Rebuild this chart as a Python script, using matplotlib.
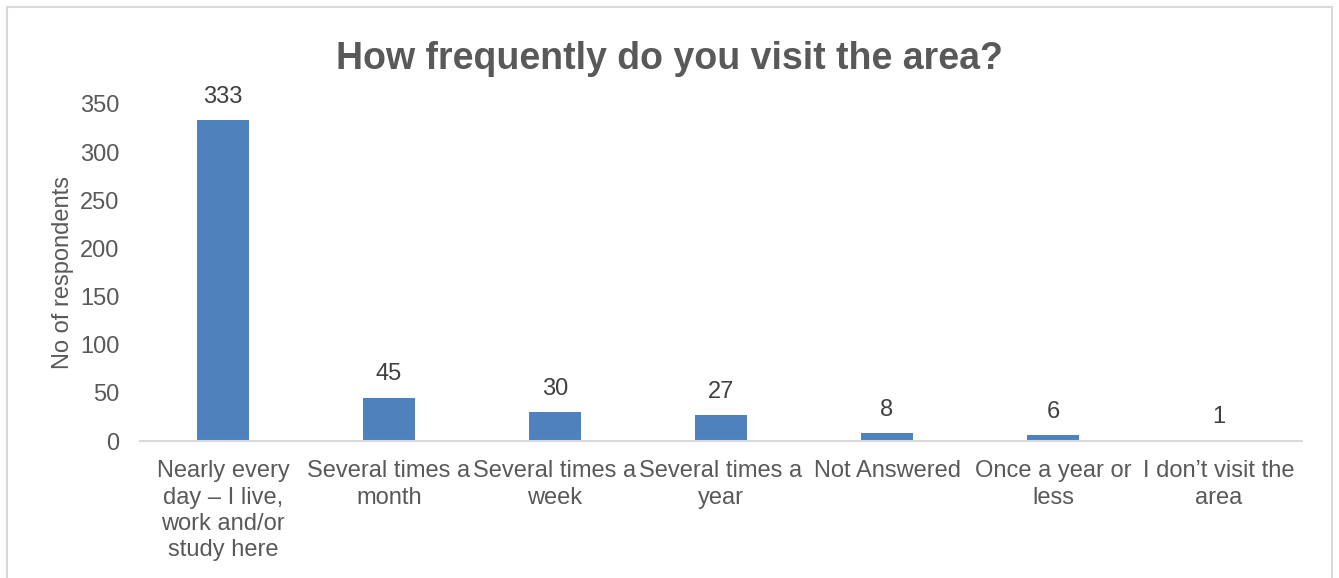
"""Bar chart of survey responses on visit frequency."""

import matplotlib
matplotlib.use("Agg")
import matplotlib.pyplot as plt
from matplotlib.patches import Rectangle

categories = [
    "Nearly every\nday \u2013 I live,\nwork and/or\nstudy here",
    "Several times a\nmonth",
    "Several times a\nweek",
    "Several times a\nyear",
    "Not Answered",
    "Once a year or\nless",
    "I don\u2019t visit the\narea",
]
respondents = [333, 45, 30, 27, 8, 6, 1]

TEXT_GRAY = "#595959"
BAR_BLUE = "#4F81BD"

plt.rcParams["font.family"] = ["Liberation Sans", "DejaVu Sans"]

fig = plt.figure(figsize=(13.39, 5.78), dpi=100)
ax = fig.add_axes([140 / 1339, 1 - 441 / 578, (1302 - 140) / 1339, (441 - 104) / 578])

x = range(len(categories))
bars = ax.bar(x, respondents, width=0.31, color=BAR_BLUE)
ax.bar_label(bars, labels=[str(v) for v in respondents], padding=9,
             fontsize=17, color="#404040")

ax.set_xlim(-0.5, len(categories) - 0.5)
ax.set_ylim(0, 350)
ax.set_yticks(range(0, 351, 50))
ax.set_xticks(list(x))
ax.set_xticklabels(categories, fontsize=17, color=TEXT_GRAY, linespacing=1.25)
ax.tick_params(axis="y", labelsize=17, labelcolor=TEXT_GRAY, length=0, pad=15)
ax.tick_params(axis="x", length=0, pad=14)

for side in ("top", "right", "left"):
    ax.spines[side].set_visible(False)
ax.spines["bottom"].set_color("#D9D9D9")
ax.spines["bottom"].set_linewidth(1.5)

ax.set_ylabel("No of respondents", fontsize=17, color=TEXT_GRAY, labelpad=4)
fig.text(0.5, 1 - 59 / 578, "How frequently do you visit the area?",
         ha="center", va="center", fontsize=27, fontweight="bold", color=TEXT_GRAY)

# chart area border, running off the lower edge
fig.patches.append(Rectangle((7 / 1339, -0.1), (1332 - 7) / 1339, 1.1 - 7 / 578,
                             transform=fig.transFigure, fill=False,
                             edgecolor="#D9D9D9", linewidth=1.5))

fig.savefig("out.png", dpi=100)
